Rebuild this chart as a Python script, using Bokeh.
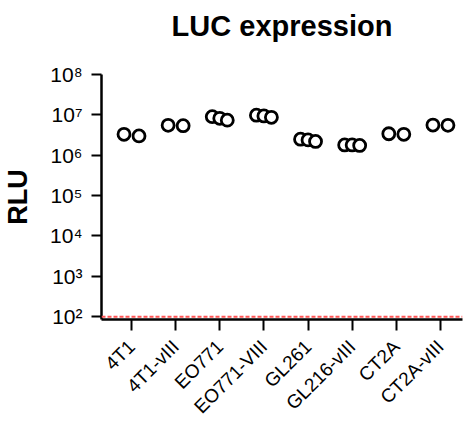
import math
from bokeh.plotting import figure
from bokeh.models import FixedTicker, Span, Range1d, LinearAxis
from bokeh.embed import file_html
from bokeh.resources import INLINE

categories = ["4T1", "4T1-vIII", "EO771", "EO771-VIII", "GL261", "GL216-vIII", "CT2A", "CT2A-vIII"]
rlu_values = [
    [3.3e6, 3.0e6],
    [5.5e6, 5.4e6],
    [9.0e6, 8.2e6, 7.4e6],
    [9.8e6, 9.4e6, 8.7e6],
    [2.5e6, 2.4e6, 2.2e6],
    [1.8e6, 1.8e6, 1.75e6],
    [3.4e6, 3.3e6],
    [5.6e6, 5.5e6],
]
detection_limit = 1e2
y_ticks = [1e2, 1e3, 1e4, 1e5, 1e6, 1e7, 1e8]
y_tick_labels = ["10²", "10³", "10⁴", "10⁵", "10⁶", "10⁷", "10⁸"]
title_text = "LUC expression"

xs, ys = [], []
spread = 0.17
for i, vals in enumerate(rlu_values):
    n = len(vals)
    for j, v in enumerate(vals):
        off = 0.0 if n == 1 else -spread + 2 * spread * j / (n - 1)
        xs.append(i + off)
        ys.append(v)

p = figure(width=467, height=430, y_axis_type="log",
           x_range=Range1d(-0.68, 7.5), y_range=Range1d(10 ** 1.93, 1e8),
           output_backend="svg", toolbar_location=None,
           min_border_left=101, min_border_top=74, min_border_bottom=111, min_border_right=5)

p.grid.visible = False
p.outline_line_color = None

xax = p.below[0]
yax = p.left[0]

# title drawn as the label of an empty top axis
top = LinearAxis(axis_label=title_text, axis_line_color=None, major_tick_line_color=None,
                 minor_tick_line_color=None, major_label_text_font_size="0px",
                 major_tick_out=0, major_tick_in=0, ticker=FixedTicker(ticks=[]))
top.axis_label_text_font = "Liberation Sans"
top.axis_label_text_font_size = "29px"
top.axis_label_text_font_style = "bold"
top.axis_label_text_color = "black"
top.axis_label_standoff = 33
p.add_layout(top, "above")

p.add_layout(Span(location=detection_limit, dimension="width", line_color="#ff5555",
                  line_dash="4 2", line_width=2))

p.scatter(xs, ys, size=12, fill_color="white", line_color="black", line_width=2.8)

yax.ticker = FixedTicker(ticks=y_ticks, minor_ticks=[])
yax.major_label_overrides = {t: l for t, l in zip(y_ticks, y_tick_labels)}
yax.major_label_text_font = "Liberation Sans"
yax.major_label_text_font_size = "21px"
yax.major_label_text_color = "black"
yax.major_label_standoff = 9
yax.major_tick_in = 0
yax.major_tick_out = 10
yax.major_tick_line_width = 2
yax.axis_line_width = 2.5
yax.minor_tick_line_color = None
yax.axis_label = "RLU"
yax.axis_label_text_font = "Liberation Sans"
yax.axis_label_text_font_size = "27px"
yax.axis_label_text_font_style = "bold"
yax.axis_label_text_color = "black"
yax.axis_label_standoff = 14

xax.ticker = FixedTicker(ticks=list(range(len(categories))), minor_ticks=[])
xax.major_label_overrides = {i: c for i, c in enumerate(categories)}
xax.major_label_orientation = math.pi / 4
xax.major_label_text_font = "Liberation Sans"
xax.major_label_text_font_size = "19px"
xax.major_label_text_color = "black"
xax.major_label_standoff = 13
xax.major_tick_in = 0
xax.major_tick_out = 11
xax.major_tick_line_width = 2
xax.minor_tick_line_color = None
xax.axis_line_width = 2.5

open("out.html", "w").write(file_html(p, INLINE))
